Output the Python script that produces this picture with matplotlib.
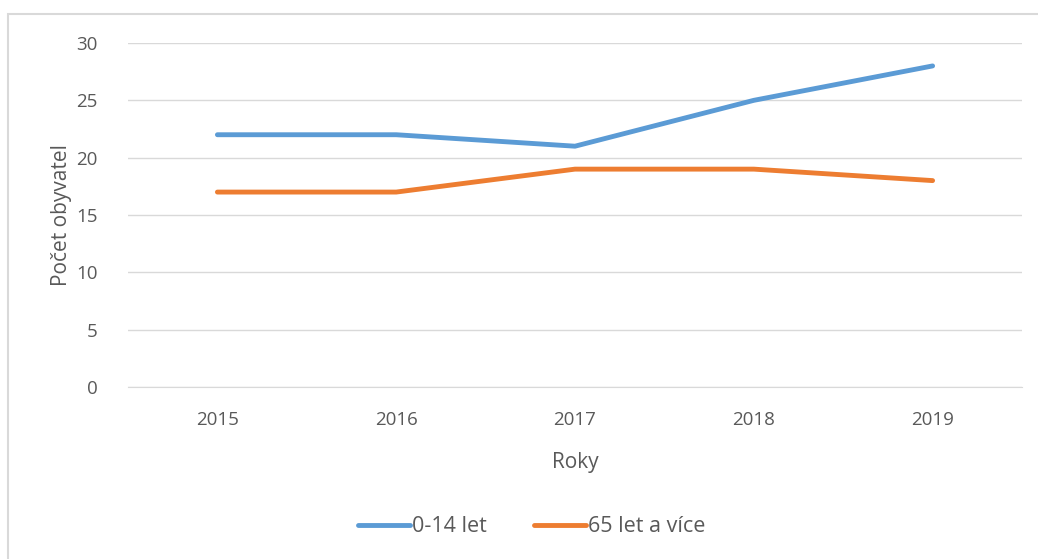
import matplotlib.pyplot as plt
from matplotlib.patches import Rectangle

# data
years = ['2015', '2016', '2017', '2018', '2019']
kids = [22, 22, 21, 25, 28]
seniors = [17, 17, 19, 19, 18]
series_names = ['0-14 let', '65 let a více']

plt.rcParams['font.family'] = ['Open Sans', 'DejaVu Sans']
txt = '#595959'

fig = plt.figure(figsize=(10.38, 5.59), dpi=100)
ax = fig.add_axes([128 / 1038, 1 - 387 / 559, 894 / 1038, 344 / 559])

# chart border (cropped on right and bottom)
fig.patches.append(Rectangle((8 / 1038, -0.1), 1.2, 1 - 14 / 559 + 0.1,
                             transform=fig.transFigure, fill=False,
                             edgecolor='#D9D9D9', linewidth=1.5))

x = range(len(years))
ax.plot(x, kids, color='#5B9BD5', linewidth=3.5, solid_capstyle='round',
        label=series_names[0])
ax.plot(x, seniors, color='#ED7D31', linewidth=3.5, solid_capstyle='round',
        label=series_names[1])

ax.set_xlim(-0.5, len(years) - 0.5)
ax.set_ylim(0, 30)
ax.set_yticks(range(0, 31, 5))
ax.set_xticks(list(x))
ax.set_xticklabels(years)
ax.grid(axis='y', color='#D9D9D9', linewidth=1)
ax.set_axisbelow(True)
for s in ['top', 'right', 'left']:
    ax.spines[s].set_visible(False)
ax.spines['bottom'].set_color('#D9D9D9')
ax.tick_params(length=0, labelsize=13.5, colors=txt)
ax.tick_params(axis='y', pad=22)
ax.tick_params(axis='x', pad=17)

ax.set_xlabel('Roky', fontsize=15, color=txt, labelpad=17)
ax.set_ylabel('Počet obyvatel', fontsize=15, color=txt, labelpad=3)

leg = fig.legend(loc='center', bbox_to_anchor=(532 / 1038, 1 - 527 / 559), ncol=2,
                 frameon=False, fontsize=15.5, handlelength=2.4,
                 handletextpad=0.1, columnspacing=2.2)
for t in leg.get_texts():
    t.set_color(txt)

fig.savefig('out.png', dpi=100)
